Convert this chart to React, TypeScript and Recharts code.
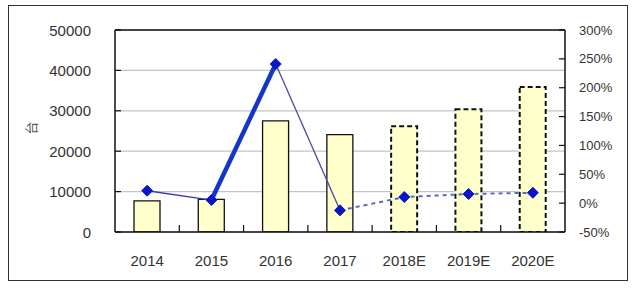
import React from 'react';
import {
    ComposedChart,
    Bar,
    Line,
    XAxis,
    YAxis,
    CartesianGrid,
    Cell,
    ReferenceLine
} from 'recharts';

// 年份（E = 预测）
const YEARS = ['2014', '2015', '2016', '2017', '2018E', '2019E', '2020E'];
// 销量（台）
const SALES = [7700, 8100, 27500, 24100, 26200, 30400, 35900];
// 增长率（%）
const GROWTH = [21.5, 5.4, 241, -12.5, 10.6, 15.8, 18];
const FIRST_FORECAST = 4;

const LEFT_TICKS = [0, 10000, 20000, 30000, 40000, 50000];
const RIGHT_TICKS = [-50, 0, 50, 100, 150, 200, 250, 300];

// line pieces: each key only holds the points of its own segment
const pick = (from: number, to: number) => GROWTH.map((v, i) => (i >= from && i <= to ? v : null));
const segA = pick(0, 1);
const segB = pick(1, 2);
const segC = pick(2, 3);
const segD = pick(3, 6);

const data = YEARS.map((year, i) => ({
    year,
    sales: SALES[i],
    growth: GROWTH[i],
    segA: segA[i],
    segB: segB[i],
    segC: segC[i],
    segD: segD[i]
}));

const LABEL_FONT = '"Liberation Sans", Arial, sans-serif';
const HALF_BAND = 450 / YEARS.length / 2;

const LeftTick = (props: any) => {
    const { x, y, payload } = props;
    return (
        <g>
            <line x1={x} x2={x + 6} y1={y} y2={y} stroke="#111" strokeWidth={1.2} />
            <text x={x - 24} y={y} textAnchor="end" dominantBaseline="central"
                fontSize={15} fontFamily={LABEL_FONT} fill="#333">
                {payload.value}
            </text>
        </g>
    );
};

const RightTick = (props: any) => {
    const { x, y, payload } = props;
    return (
        <g>
            <line x1={x - 6} x2={x} y1={y} y2={y} stroke="#111" strokeWidth={1.2} />
            <text x={x + 14} y={y} textAnchor="start" dominantBaseline="central"
                fontSize={13} fontFamily={LABEL_FONT} fill="#333">
                {payload.value}%
            </text>
        </g>
    );
};

const BottomTick = (props: any) => {
    const { x, y, payload, index } = props;
    return (
        <g>
            {index < YEARS.length - 1 && (
                <line x1={x + HALF_BAND} x2={x + HALF_BAND} y1={y} y2={y - 7} stroke="#111" strokeWidth={1.2} />
            )}
            <text x={x} y={y + 28} textAnchor="middle" dominantBaseline="central"
                fontSize={15} fontFamily={LABEL_FONT} fill="#333">
                {payload.value}
            </text>
        </g>
    );
};

const Diamond = (props: any) => {
    const { cx, cy } = props;
    if (cx == null || cy == null) return null;
    const r = 5.5;
    return (
        <path
            d={`M${cx},${cy - r} L${cx + r},${cy} L${cx},${cy + r} L${cx - r},${cy} Z`}
            fill="#0a14c8"
            stroke="#0a14c8"
        />
    );
};

export default function App() {
    return (
        <div style={{ position: 'absolute', left: 0, top: 0, width: 641, height: 288, background: '#fff' }}>
            {/* outer frame */}
            <div style={{
                position: 'absolute', left: 8, top: 5, width: 618, height: 274,
                border: '1.5px solid #333'
            }} />
            <div style={{ position: 'absolute', left: 0, top: 0 }}>
                <ComposedChart
                    width={641}
                    height={288}
                    data={data}
                    margin={{ top: 30, right: 16, left: 55, bottom: 26 }}
                    barCategoryGap={0}
                >
                    <CartesianGrid yAxisId="left" vertical={false} stroke="#c4c4c4" strokeWidth={1.2} />
                    <XAxis
                        dataKey="year"
                        height={30}
                        axisLine={{ stroke: '#111', strokeWidth: 1.5 }}
                        tickLine={false}
                        tickSize={0}
                        tickMargin={0}
                        interval={0}
                        tick={<BottomTick />}
                    />
                    <YAxis
                        yAxisId="left"
                        width={60}
                        domain={[0, 50000]}
                        ticks={LEFT_TICKS}
                        allowDataOverflow
                        axisLine={{ stroke: '#111', strokeWidth: 1.5 }}
                        tickLine={false}
                        tickSize={0}
                        tickMargin={0}
                        tick={<LeftTick />}
                        label={{
                            content: () => (
                                <text x={30} y={128} transform="rotate(-90 30 128)" textAnchor="middle"
                                    dominantBaseline="central" fontSize={13}
                                    fontFamily='"Noto Sans CJK SC", sans-serif' fill="#555">
                                    台
                                </text>
                            )
                        }}
                    />
                    <YAxis
                        yAxisId="right"
                        orientation="right"
                        width={60}
                        domain={[-50, 300]}
                        ticks={RIGHT_TICKS}
                        allowDataOverflow
                        axisLine={{ stroke: '#111', strokeWidth: 1.5 }}
                        tickLine={false}
                        tickSize={0}
                        tickMargin={0}
                        tick={<RightTick />}
                    />
                    <ReferenceLine yAxisId="left" y={50000} stroke="#111" strokeWidth={1.5} />

                    <Bar yAxisId="left" dataKey="sales" barSize={26} fill="#ffffcc" isAnimationActive={false}>
                        {data.map((d, i) => (
                            <Cell
                                key={`bar-${i}`}
                                fill="#ffffcc"
                                stroke="#111"
                                strokeWidth={i >= FIRST_FORECAST ? 2 : 1.3}
                                strokeDasharray={i >= FIRST_FORECAST ? '5 3' : undefined}
                            />
                        ))}
                    </Bar>

                    <Line yAxisId="right" dataKey="segA" stroke="#3a3ab0" strokeWidth={1.3}
                        dot={false} activeDot={false} isAnimationActive={false} />
                    <Line yAxisId="right" dataKey="segB" stroke="#1436c8" strokeWidth={4.5}
                        dot={false} activeDot={false} isAnimationActive={false} />
                    <Line yAxisId="right" dataKey="segC" stroke="#4848a8" strokeWidth={1.3}
                        dot={false} activeDot={false} isAnimationActive={false} />
                    <Line yAxisId="right" dataKey="segD" stroke="#5a6ab8" strokeWidth={2}
                        strokeDasharray="4 4" dot={false} activeDot={false} isAnimationActive={false} />
                    <Line yAxisId="right" dataKey="growth" stroke="none"
                        dot={<Diamond />} activeDot={false} isAnimationActive={false} />
                </ComposedChart>
            </div>
        </div>
    );
}
